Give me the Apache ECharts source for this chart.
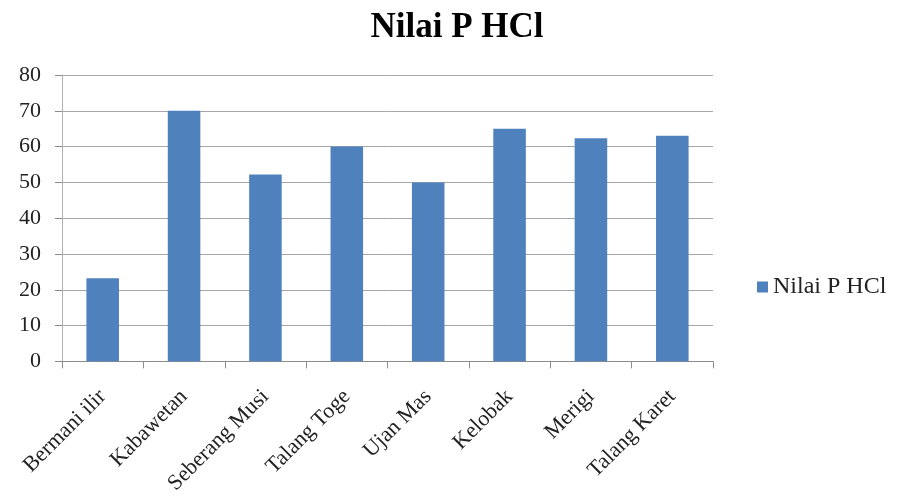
<!DOCTYPE html>
<html>
<head>
<meta charset="utf-8">
<script src="https://cdn.jsdelivr.net/npm/echarts@6/dist/echarts.min.js"></script>
<style>
html,body{margin:0;padding:0;background:#fff;}
#chart{width:897px;height:497px;}
</style>
</head>
<body>
<div id="chart"></div>
<script>
const categories = ["Bermani ilir", "Kabawetan", "Seberang Musi", "Talang Toge", "Ujan Mas", "Kelobak", "Merigi", "Talang Karet"];
const seriesName = "Nilai P HCl";
const values = [23.2, 70, 52.2, 60, 50, 65, 62.3, 63];
const yTicks = {min: 0, max: 80, interval: 10};

const chart = echarts.init(document.getElementById('chart'));
const serif = '"Liberation Serif", "DejaVu Serif", serif';
chart.setOption({
  animation: false,
  backgroundColor: '#fff',
  title: {
    text: seriesName,
    left: 452, top: 5, textAlign: 'center',
    textStyle: {fontFamily: serif, fontWeight: 'bold', fontSize: 35, color: '#000'}
  },
  legend: {
    data: [seriesName],
    left: 752, top: 270,
    orient: 'vertical',
    icon: 'rect', itemWidth: 11, itemHeight: 11, itemGap: 6,
    textStyle: {fontFamily: serif, fontSize: 24, color: '#222'}
  },
  grid: {left: 62, right: 184, top: 75, bottom: 134, containLabel: false},
  xAxis: {
    type: 'category',
    data: categories,
    axisLine: {lineStyle: {color: '#8c8c8c', width: 1}},
    axisTick: {show: true, length: 7, alignWithLabel: false, lineStyle: {color: '#8c8c8c'}},
    axisLabel: {rotate: 45, margin: 32, fontFamily: serif, fontSize: 22, color: '#222', interval: 0}
  },
  yAxis: {
    type: 'value',
    min: yTicks.min, max: yTicks.max, interval: yTicks.interval,
    axisLine: {show: true, lineStyle: {color: '#b0b0b0'}},
    axisTick: {show: true, length: 7, inside: false, lineStyle: {color: '#8c8c8c'}},
    splitLine: {lineStyle: {color: '#a6a6a6', width: 1}},
    axisLabel: {fontFamily: serif, fontSize: 22, color: '#222', margin: 21}
  },
  series: [{
    name: seriesName,
    type: 'bar',
    data: values,
    barWidth: '40%',
    itemStyle: {color: '#4F81BD'}
  }]
});
</script>
</body>
</html>
